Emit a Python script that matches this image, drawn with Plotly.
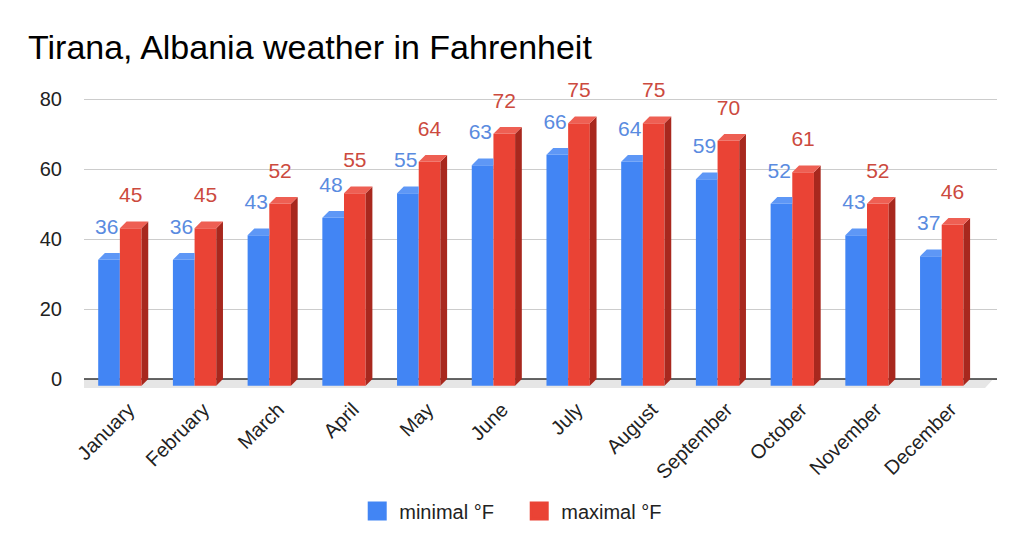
import plotly.graph_objects as go

months = ["January", "February", "March", "April", "May", "June", "July",
          "August", "September", "October", "November", "December"]
min_f = [36, 36, 43, 48, 55, 63, 66, 64, 59, 52, 43, 37]
max_f = [45, 45, 52, 55, 64, 72, 75, 75, 70, 61, 52, 46]
y_ticks = [0, 20, 40, 60, 80]

FONT = "Liberation Sans, Arial, sans-serif"
BLUE, BLUE_TOP = "#4285F4", "#5E97F6"
RED, RED_TOP, RED_SIDE = "#EA4335", "#EE5F53", "#A8281E"
BLUE_LBL, RED_LBL = "#5A8BE0", "#CC4A3E"

W = 0.29    # bar width (category units)
DX = 0.09   # depth offset in x (category units)
DY = 1.9    # depth offset in y (value units)
X_RANGE = [-0.48, 11.74]
Y_RANGE = [-4, 84]

# the page body adds an 8px offset; margins compensate for it
OFF = 8

idx = list(range(len(months)))

fig = go.Figure()

# front faces
fig.add_trace(go.Bar(x=idx, y=min_f, base=-DY, width=W, offset=-W,
                     marker=dict(color=BLUE, line=dict(width=0)),
                     showlegend=False, hoverinfo="skip"))
fig.add_trace(go.Bar(x=idx, y=max_f, base=-DY, width=W, offset=0,
                     marker=dict(color=RED, line=dict(width=0)),
                     showlegend=False, hoverinfo="skip"))


def poly_trace(polys, color):
    xs, ys = [], []
    for p in polys:
        for (a, b) in p:
            xs.append(a)
            ys.append(b)
        xs.append(p[0][0]); ys.append(p[0][1])
        xs.append(None); ys.append(None)
    return go.Scatter(x=xs, y=ys, mode="lines", fill="toself", fillcolor=color,
                      line=dict(width=0, color=color), showlegend=False,
                      hoverinfo="skip")


blue_top = [[(i - W, v - DY), (i, v - DY), (i, v), (i - W + DX, v)]
            for i, v in zip(idx, min_f)]
red_top = [[(i, v - DY), (i + W, v - DY), (i + W + DX, v), (i + DX, v)]
           for i, v in zip(idx, max_f)]
red_side = [[(i + W, -DY), (i + W, v - DY), (i + W + DX, v), (i + W + DX, 0)]
            for i, v in zip(idx, max_f)]

fig.add_trace(poly_trace(blue_top, BLUE_TOP))
fig.add_trace(poly_trace(red_side, RED_SIDE))
fig.add_trace(poly_trace(red_top, RED_TOP))

# data labels
LBL_OFF = 7.0
fig.add_trace(go.Scatter(x=[i - W / 2 - 0.03 for i in idx], y=[v + LBL_OFF for v in min_f],
                         mode="text", text=[str(v) for v in min_f],
                         textposition="middle center", cliponaxis=False,
                         textfont=dict(family=FONT, size=21, color=BLUE_LBL),
                         showlegend=False, hoverinfo="skip"))
fig.add_trace(go.Scatter(x=[i + W / 2 for i in idx], y=[v + LBL_OFF for v in max_f],
                         mode="text", text=[str(v) for v in max_f],
                         textposition="middle center", cliponaxis=False,
                         textfont=dict(family=FONT, size=21, color=RED_LBL),
                         showlegend=False, hoverinfo="skip"))

# legend entries
fig.add_trace(go.Scatter(x=[None], y=[None], mode="markers", name="minimal °F",
                         marker=dict(symbol="square", size=16, color=BLUE,
                                     line=dict(color=BLUE, width=3))))
fig.add_trace(go.Scatter(x=[None], y=[None], mode="markers", name="maximal °F",
                         marker=dict(symbol="square", size=16, color=RED,
                                     line=dict(color=RED, width=3))))

# floor and base line
floor_right = 11.69
floor_depth = 2.6
fig.add_shape(type="path", xref="x", yref="y", layer="between",
              path=(f"M {X_RANGE[0] - 0.2},0 L {floor_right},0 "
                    f"L {floor_right - 0.11},{-floor_depth} "
                    f"L {X_RANGE[0] - 0.3},{-floor_depth} Z"),
              fillcolor="#E6E6E6", line=dict(width=0))
fig.add_shape(type="line", xref="x", yref="y", layer="between",
              x0=X_RANGE[0], x1=floor_right + 0.05, y0=0, y1=0,
              line=dict(color="#333333", width=1.6))

fig.update_layout(
    width=1024, height=551,
    margin=dict(l=84 - OFF, r=27 + OFF, t=85 - OFF, b=158 + OFF),
    paper_bgcolor="white", plot_bgcolor="white",
    barmode="overlay",
    title=dict(text="Tirana, Albania weather in Fahrenheit",
               font=dict(family=FONT, size=34, color="#000000"),
               x=(28 - OFF) / 1024, xref="container", xanchor="left",
               y=1 - (47 - OFF) / 551, yref="container", yanchor="middle"),
    xaxis=dict(range=X_RANGE, tickvals=[i + 0.12 for i in idx], ticktext=months,
               tickangle=-45, showgrid=False, zeroline=False, showline=False,
               tickfont=dict(family=FONT, size=20, color="#222222")),
    yaxis=dict(range=Y_RANGE, tickvals=y_ticks, showgrid=True, gridcolor="#CCCCCC",
               gridwidth=1, zeroline=False, showline=False, ticklabelstandoff=21,
               tickfont=dict(family=FONT, size=20, color="#222222")),
    legend=dict(orientation="h", x=0.4745, xanchor="center", y=-0.383, yanchor="middle",
                entrywidth=113, entrywidthmode="pixels", itemwidth=34,
                font=dict(family=FONT, size=20, color="#222222")),
    showlegend=True,
)

fig.write_html("out.html")
